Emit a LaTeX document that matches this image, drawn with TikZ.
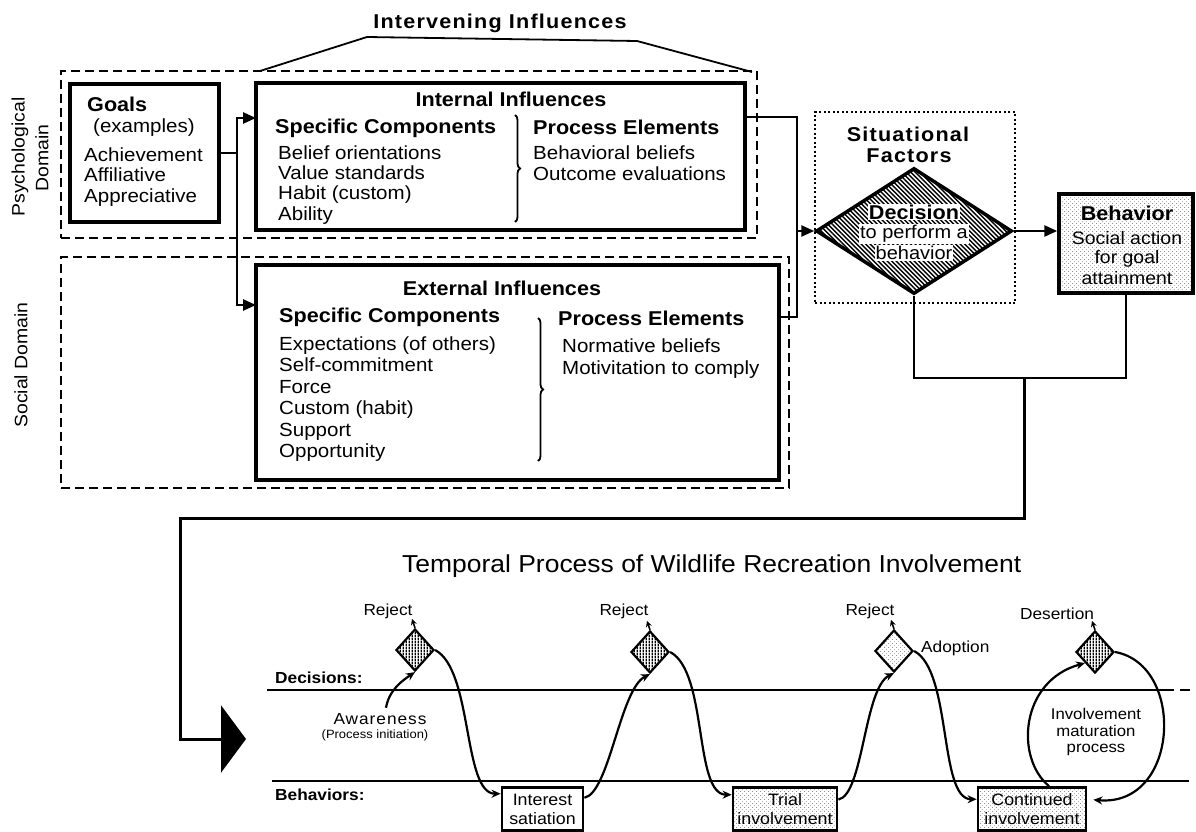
\documentclass[tikz,border=0pt]{standalone}
\usepackage{fontspec}
\setmainfont{Liberation Sans}[FakeStretch=1.08]
\newfontfamily\spacedfont{Liberation Sans}[FakeStretch=1.08,LetterSpace=6]
\usetikzlibrary{arrows.meta,shapes.geometric,patterns,decorations.pathreplacing,calc}
\newcommand{\fsz}[2]{\fontsize{#1}{#2}\selectfont}
\pgfdeclarepatternformonly{dhatch}{\pgfqpoint{-1pt}{-1pt}}{\pgfqpoint{5.5pt}{5.5pt}}{\pgfqpoint{4.5pt}{4.5pt}}{%
  \pgfsetlinewidth{1.4pt}\pgfpathmoveto{\pgfqpoint{0pt}{4.5pt}}\pgfpathlineto{\pgfqpoint{4.6pt}{-0.1pt}}\pgfusepath{stroke}}
\pgfdeclarepatternformonly{vhatch}{\pgfqpoint{0pt}{0pt}}{\pgfqpoint{3pt}{3pt}}{\pgfqpoint{3pt}{3pt}}{%
  \pgfsetlinewidth{1.6pt}\pgfpathmoveto{\pgfqpoint{1.5pt}{0pt}}\pgfpathlineto{\pgfqpoint{1.5pt}{3pt}}\pgfusepath{stroke}}
\pgfdeclarepatternformonly{stipple}{\pgfqpoint{0pt}{0pt}}{\pgfqpoint{4pt}{4pt}}{\pgfqpoint{4pt}{4pt}}{%
  \pgfpathcircle{\pgfqpoint{0.8pt}{0.8pt}}{0.5pt}\pgfpathcircle{\pgfqpoint{2.8pt}{2.8pt}}{0.4pt}\pgfusepath{fill}}
\begin{document}
\begin{tikzpicture}[x=1pt,y=-1pt,
  thickbox/.style={draw, line width=3.5pt, rectangle, inner sep=0pt},
  dashbox/.style={draw, line width=1.6pt, dash pattern=on 9pt off 5pt, rectangle, inner sep=0pt},
  dotbox/.style={draw, line width=2pt, dash pattern=on 2pt off 2.5pt, rectangle, inner sep=0pt},
  conn/.style={line width=2.6pt},
  arr/.style={line width=2.6pt, -{Triangle[length=13pt,width=11pt]}},
  bigarr/.style={line width=3pt, -{Triangle[length=25pt,width=67pt]}},
  curv/.style={line width=2.2pt, -{Stealth[length=9pt,width=8pt]}},
  sarr/.style={line width=1.6pt, -{Stealth[length=6pt,width=6pt]}},
  brc/.style={decorate, decoration={brace, amplitude=5pt}, line width=1.8pt},
  txt/.style={inner sep=0pt, anchor=base west},
  ctxt/.style={inner sep=0pt, anchor=base},
  body/.style={font=\fsz{19}{21}},
  head/.style={font=\bfseries\fsz{20}{22}},
  sdia/.style={draw, diamond, line width=2.2pt, minimum width=38pt, minimum height=42pt, inner sep=0pt},
  sbox/.style={draw, rectangle, line width=2.8pt, inner sep=0pt, align=center, font=\fsz{16.5}{19}},
  small/.style={font=\fsz{16}{18}},
]
\useasboundingbox (0,0) rectangle (1196,832);

% ---------- titles and side labels ----------
\node[ctxt, font=\spacedfont\bfseries\fsz{20}{22}] (ttl) at (500,29) {Intervening Influences};
\draw[line width=1.8pt] (260,71) -- (367,37) -- (637,41) -- (752,72);
\node[rotate=90, font=\fsz{18}{20}] (psyl1) at (20,157) {Psychological};
\node[rotate=90, font=\fsz{18}{20}] (psyl2) at (42,158) {Domain};
\node[rotate=90, font=\fsz{18}{20}] (socl) at (21,365) {Social Domain};

% ---------- domain boxes ----------
\node[dashbox, minimum width=696pt, minimum height=167pt] (psy) at (409,154.5) {};
\node[dashbox, minimum width=728pt, minimum height=231pt] (soc) at (425,372.5) {};

% ---------- goals ----------
\node[thickbox, minimum width=149pt, minimum height=138pt] (goals) at (144.5,153) {};
\node[txt, head] (gt) at (87,112) {Goals};
\node[txt, body] (g0) at (93,132) {(examples)};
\node[txt, body] (g1) at (84,161) {Achievement};
\node[txt, body] (g2) at (84,181) {Affiliative};
\node[txt, body] (g3) at (84,202) {Appreciative};

% ---------- internal influences ----------
\node[thickbox, minimum width=489pt, minimum height=147pt] (internal) at (500.5,156.5) {};
\node[ctxt, head] (it) at (511,107) {Internal Influences};
\node[txt, head] (isc) at (275,134) {Specific Components};
\node[txt, body] (i1) at (278,159) {Belief orientations};
\node[txt, body] (i2) at (278,179) {Value standards};
\node[txt, body] (i3) at (278,199) {Habit (custom)};
\node[txt, body] (i4) at (278,220) {Ability};
\draw[brc] (515,115) -- (515,222);
\node[txt, head] (ipe) at (533,135) {Process Elements};
\node[txt, body] (ip1) at (533,160) {Behavioral beliefs};
\node[txt, body] (ip2) at (533,180) {Outcome evaluations};

% ---------- external influences ----------
\node[thickbox, minimum width=523pt, minimum height=215pt] (external) at (517.5,372.5) {};
\node[ctxt, head] (et) at (502,295) {External Influences};
\node[txt, head] (esc) at (279,322) {Specific Components};
\node[txt, body] (e1) at (279,350) {Expectations (of others)};
\node[txt, body] (e2) at (279,371.5) {Self-commitment};
\node[txt, body] (e3) at (279,393) {Force};
\node[txt, body] (e4) at (279,414.5) {Custom (habit)};
\node[txt, body] (e5) at (279,436) {Support};
\node[txt, body] (e6) at (279,457.5) {Opportunity};
\draw[brc] (538,318) -- (538,461);
\node[txt, head] (epe) at (558,325) {Process Elements};
\node[txt, body] (ep1) at (562,352) {Normative beliefs};
\node[txt, body] (ep2) at (562,374) {Motivitation to comply};

% ---------- goals -> influences ----------
\coordinate (jx) at (237,153);
\coordinate (inA) at (256,118);
\coordinate (exA) at (256,305);
\draw[conn] (goals.east) -- (jx);
\draw[arr] (jx) |- (inA);
\draw[arr] (jx) |- (exA);

% ---------- situational factors / decision ----------
\node[dotbox, minimum width=200pt, minimum height=191pt] (sit) at (915,207.5) {};
\node[ctxt, font=\spacedfont\bfseries\fsz{20}{22}] (st1) at (908,142) {Situational};
\node[ctxt, font=\spacedfont\bfseries\fsz{20}{22}] (st2) at (909,162) {Factors};
\node[diamond, draw, line width=3.5pt, minimum width=196pt, minimum height=126pt, inner sep=0pt, pattern=dhatch] (dec) at (914,231) {};
\node[fill=white, inner sep=1pt, font=\bfseries\fsz{20}{22}] (dt1) at (914,212) {Decision};
\node[fill=white, inner sep=1pt, font=\fsz{18.5}{21}] (dt2) at (914,234) {to perform a};
\node[fill=white, inner sep=1pt, font=\fsz{18.5}{21}] (dt3) at (914,253) {behavior};

% ---------- influences -> decision ----------
\coordinate (inR) at (745,117);
\coordinate (exR) at (779,317);
\coordinate (mBot) at (797,317);
\draw[conn] (inR) -| (mBot) -- (exR);
\draw[arr] (mBot |- dec.west) -- (dec.west);

% ---------- behavior ----------
\node[thickbox, minimum width=134pt, minimum height=99pt, pattern=stipple, pattern color=black!75] (beh) at (1126,243.5) {};
\node[ctxt, font=\bfseries\fsz{20}{22}] (bt1) at (1127,220) {Behavior};
\node[ctxt, font=\fsz{18}{20}] (bt2) at (1127,244) {Social action};
\node[ctxt, font=\fsz{18}{20}] (bt3) at (1127,263) {for goal};
\node[ctxt, font=\fsz{18}{20}] (bt4) at (1127,284) {attainment};
\draw[arr] (dec.east) -- (beh.west |- dec.east);

% ---------- feedback to temporal process ----------
\coordinate (j2) at (1024,378);
\coordinate (turn2) at (180,518);
\coordinate (bigtip) at (246,739);
\draw[conn] (dec.south) |- (j2) -| (beh.south);
\draw[bigarr] (j2) |- (turn2) |- (bigtip);

% ---------- temporal process ----------
\node[txt, font=\fsz{24.5}{26}] (temp) at (402,572) {Temporal Process of Wildlife Recreation Involvement};
\coordinate (decL) at (267,690);
\coordinate (decM) at (1164,690);
\coordinate (decR) at (1196,690);
\coordinate (behL) at (272,781);
\coordinate (behR) at (1189,781);
\draw[line width=1.2pt] (decL) -- (decM);
\draw[line width=1.2pt, dash pattern=on 10pt off 6pt] (decM) -- (decR);
\draw[line width=1.2pt] (behL) -- (behR);
\node[txt, font=\bfseries\fsz{16}{18}] (decl) at (275,683) {Decisions:};
\node[txt, font=\bfseries\fsz{16}{18}] (behl) at (275,800) {Behaviors:};

\node[sdia, pattern=vhatch] (d1) at (415,650) {};
\node[sdia, pattern=vhatch] (d2) at (650,652) {};
\node[sdia, pattern=stipple, pattern color=black!75] (d3) at (894,651) {};
\node[sdia, pattern=vhatch] (d4) at (1095,652) {};

\node[ctxt, small] (r1) at (388,615) {Reject};
\node[ctxt, small] (r2) at (624,615) {Reject};
\node[ctxt, small] (r3) at (870,615) {Reject};
\node[ctxt, small] (r4) at (1057,619) {Desertion};
\node[txt, small] (adop) at (921,652) {Adoption};
\draw[sarr] (d1.north) -- ++(-3,-9);
\draw[sarr] (d2.north) -- ++(-3,-9);
\draw[sarr] (d3.north) -- ++(-3,-9);
\draw[sarr] (d4.north) -- ++(-3,-9);

\node[ctxt, font=\spacedfont\fsz{16}{18}] (aw) at (380,724) {Awareness};
\node[ctxt, font=\fsz{12}{14}] (awp) at (375,738) {(Process initiation)};

\node[sbox, minimum width=81pt, minimum height=43pt] (int) at (542.5,809) {Interest\\satiation};
\node[sbox, minimum width=104pt, minimum height=43pt, pattern=stipple, pattern color=black!75] (tri) at (785,809) {Trial\\involvement};
\node[sbox, minimum width=108pt, minimum height=43pt, pattern=stipple, pattern color=black!75] (con) at (1032,809) {Continued\\involvement};

\node[align=center, font=\fsz{15.5}{16.5}, inner sep=0pt] (mat) at (1096,732) {Involvement\\maturation\\process};

\draw[curv] ($(aw.north)+(6,-5)$) .. controls +(3,-18) and +(-12,8) .. (d1.south);
\draw[curv] (d1.east) .. controls +(38,20) and +(-38,0) .. (int.160);
\draw[curv] (int.15) .. controls +(25,-5) and +(-30,15) .. (d2.south);
\draw[curv] (d2.east) .. controls +(38,20) and +(-38,0) .. (tri.165);
\draw[curv] (tri.10) .. controls +(25,-5) and +(-30,15) .. (d3.south);
\draw[curv] (d3.east) .. controls +(38,20) and +(-38,0) .. (con.170);
\draw[curv] ($(con.north)+(17,0)$) .. controls +(-34,-28) and +(-65,18) .. (d4.south west);
\draw[curv, shorten >=6pt] (d4.east) .. controls +(71,13) and +(92,8) .. (con.10);
\end{tikzpicture}
\end{document}
